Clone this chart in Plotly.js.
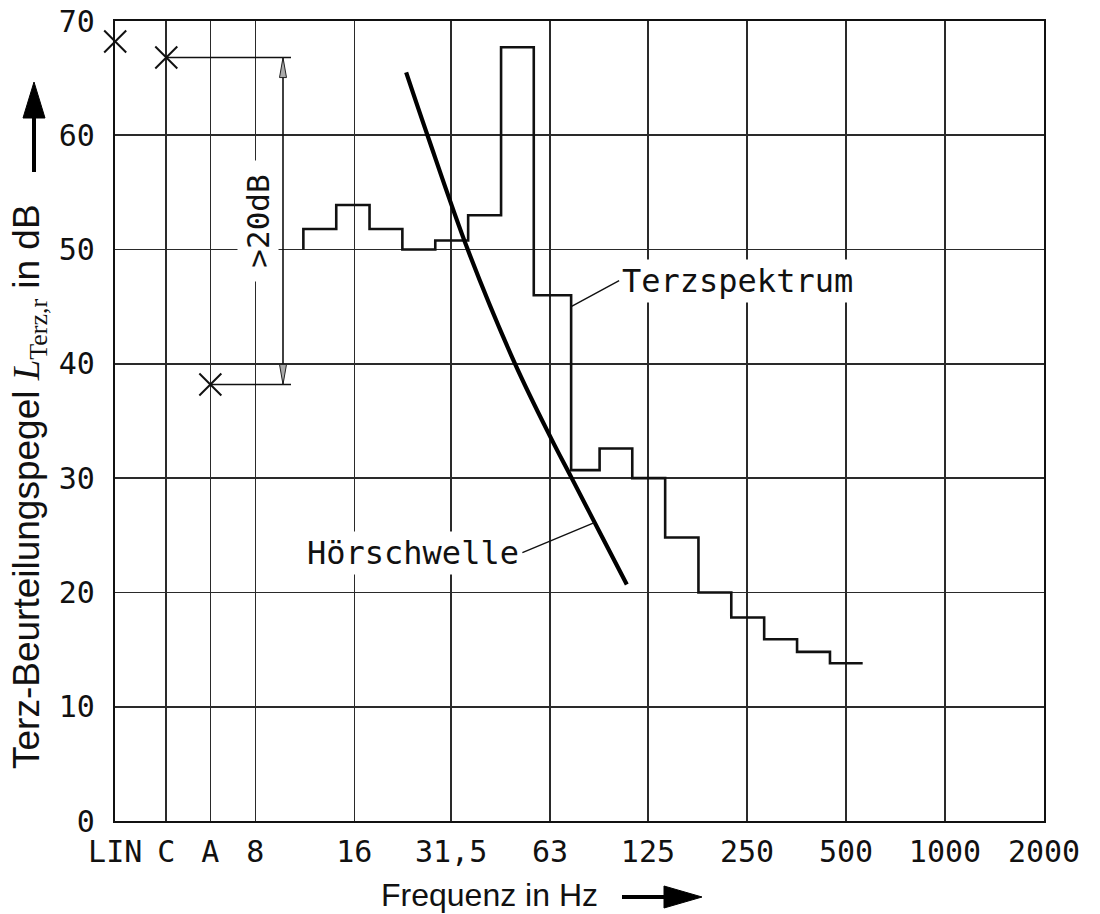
<!DOCTYPE html>
<html><head><meta charset="utf-8">
<script src="https://cdn.plot.ly/plotly-3.0.1.min.js"></script>
<style>html,body{margin:0;padding:0;background:#fff}</style>
</head><body><div id="chart" style="width:1100px;height:914px"></div>
<script>
// ---- data ----
const tickLabels = ['LIN', 'C', 'A', '8', '16', '31,5', '63', '125', '250', '500', '1000', '2000'];
const tickPositions = [3.0, 4.29, 5.84, 8, 16, 31.5, 63, 125, 250, 500, 1000, 2000];
const weightingNames = ['LIN', 'C', 'A'];
const weightingLevels = [68.2, 66.8, 38.2];
const bandEdgesHz = [11.2, 14.1, 17.8, 22.4, 28.2, 35.5, 44.7, 56.2, 73, 89.1, 112, 141, 178, 224, 282, 355, 447, 562];
const terzLevels = [51.8, 53.9, 51.8, 50.0, 50.8, 53.0, 67.7, 46.0, 30.7, 32.6, 30.0, 24.8, 20.0, 17.8, 15.9, 14.8, 13.8];
const terzBaseLevel = 50;
const hearingFreq = [23.0, 26.7, 35.4, 49.3, 63.4, 73.3, 89.4, 107.8];
const hearingLevel = [65.5, 60.0, 50.0, 40.0, 33.5, 30.0, 25.2, 20.7];
const yTicks = [0, 10, 20, 30, 40, 50, 60, 70];

// ---- layout geometry ----
const W = 1100, H = 914;
const M = {l: 115, r: 56, t: 21, b: 93};
const PW = W - M.l - M.r, PH = H - M.t - M.b;
const xr = [Math.log10(tickPositions[0]) - 0.0006, Math.log10(tickPositions[tickPositions.length - 1])];
const pxX = px => (px - M.l) / PW;
const pyY = py => (H - M.b - py) / PH;
const dataXtoPaper = v => (Math.log10(v) - xr[0]) / (xr[1] - xr[0]);
const weightingPos = tickPositions.slice(0, 3);

// step path of the third-octave spectrum
const sx = [bandEdgesHz[0]], sy = [terzBaseLevel];
for (let i = 0; i < terzLevels.length; i++) {
  sx.push(bandEdgesHz[i], bandEdgesHz[i + 1]);
  sy.push(terzLevels[i], terzLevels[i]);
}

const isoFont = 'DejaVu Sans Mono';
const traces = [
  {x: sx, y: sy, mode: 'lines', line: {color: '#111', width: 2.6}, hoverinfo: 'skip', name: 'Terzspektrum'},
  {x: hearingFreq, y: hearingLevel, mode: 'lines', line: {color: '#000', width: 4.2, shape: 'spline', smoothing: 1}, name: 'Hörschwelle'},
  {x: weightingPos, y: weightingLevels, mode: 'markers', cliponaxis: false, name: 'LIN/C/A',
   marker: {symbol: 'x-thin', size: 22, color: '#111', line: {width: 2, color: '#111'}}}
];

const dimX = pxX(283), extEnd = pxX(291);
const shapes = [
  {type: 'line', xref: 'paper', yref: 'y', x0: dataXtoPaper(weightingPos[1]), x1: extEnd, y0: weightingLevels[1], y1: weightingLevels[1], line: {color: '#111', width: 1.6}},
  {type: 'line', xref: 'paper', yref: 'y', x0: dataXtoPaper(weightingPos[2]), x1: extEnd, y0: weightingLevels[2], y1: weightingLevels[2], line: {color: '#111', width: 1.6}},
  {type: 'line', xref: 'paper', yref: 'y', x0: dimX, x1: dimX, y0: weightingLevels[1], y1: weightingLevels[2], line: {color: '#111', width: 1.6}},
  {type: 'path', xref: 'paper', yref: 'y', xsizemode: 'pixel', ysizemode: 'pixel', xanchor: dimX, yanchor: weightingLevels[1],
   path: 'M0,0 L-3.5,-20 L3.5,-20 Z', fillcolor: '#aaa', line: {color: '#222', width: 1}},
  {type: 'path', xref: 'paper', yref: 'y', xsizemode: 'pixel', ysizemode: 'pixel', xanchor: dimX, yanchor: weightingLevels[2],
   path: 'M0,0 L-3.5,20 L3.5,20 Z', fillcolor: '#aaa', line: {color: '#222', width: 1}},
  // axis arrows
  {type: 'path', xref: 'paper', yref: 'paper', xsizemode: 'pixel', ysizemode: 'pixel', xanchor: pxX(34), yanchor: pyY(82),
   path: 'M0,0 L-11,-36 L11,-36 Z', fillcolor: '#000', line: {color: '#000', width: 1}},
  {type: 'line', xref: 'paper', yref: 'paper', xsizemode: 'pixel', ysizemode: 'pixel', xanchor: pxX(34), yanchor: pyY(82),
   x0: 0, x1: 0, y0: -34, y1: -90, line: {color: '#000', width: 4}},
  {type: 'path', xref: 'paper', yref: 'paper', xsizemode: 'pixel', ysizemode: 'pixel', xanchor: pxX(702), yanchor: pyY(897),
   path: 'M0,0 L-38,11 L-38,-11 Z', fillcolor: '#000', line: {color: '#000', width: 1}},
  {type: 'line', xref: 'paper', yref: 'paper', xsizemode: 'pixel', ysizemode: 'pixel', xanchor: pxX(702), yanchor: pyY(897),
   x0: -36, x1: -80, y0: 0, y1: 0, line: {color: '#000', width: 4}}
];

const annotations = [
  {text: 'Terzspektrum', xref: 'x', yref: 'y', x: Math.log10(bandEdgesHz[8]), y: 45, ax: 48, ay: -26,
   showarrow: true, arrowhead: 0, arrowwidth: 1.4, arrowcolor: '#111', xanchor: 'left', yanchor: 'middle',
   bgcolor: '#fff', borderpad: 2, font: {family: isoFont, size: 32, color: '#111'}},
  {text: 'Hörschwelle', xref: 'x', yref: 'y', x: Math.log10(85.9), y: 26.1, ax: -72, ay: 30,
   showarrow: true, arrowhead: 0, arrowwidth: 1.4, arrowcolor: '#111', xanchor: 'right', yanchor: 'middle',
   bgcolor: '#fff', borderpad: 2, font: {family: isoFont, size: 32, color: '#111'}},
  {text: '>20dB', xref: 'paper', yref: 'y', x: pxX(258), y: (weightingLevels[1] + weightingLevels[2]) / 2,
   showarrow: false, textangle: -90, width: 120, height: 40, xanchor: 'center', yanchor: 'middle',
   bgcolor: '#fff', borderpad: 0, font: {family: isoFont, size: 31, color: '#111'}},
  {text: 'Frequenz in Hz', xref: 'paper', yref: 'paper', x: pxX(600), y: pyY(895), xanchor: 'right', yanchor: 'middle',
   showarrow: false, font: {family: 'Liberation Sans, Arial, sans-serif', size: 32, color: '#111'}},
  {text: 'Terz-Beurteilungspegel <span style="font-family:Liberation Serif"><i>L</i><sub>Terz,r</sub></span> in dB',
   xref: 'paper', yref: 'paper', x: pxX(29), y: pyY(487), xanchor: 'center', yanchor: 'middle', textangle: -90,
   showarrow: false, font: {family: 'Liberation Sans, Arial, sans-serif', size: 37, color: '#111'}}
];

const layout = {
  width: W, height: H,
  margin: M,
  paper_bgcolor: '#fff', plot_bgcolor: '#fff',
  showlegend: false,
  font: {family: isoFont, color: '#111'},
  xaxis: {
    type: 'log', range: xr, tickmode: 'array', tickvals: tickPositions, ticktext: tickLabels,
    showgrid: true, gridcolor: '#2a2a2a', gridwidth: 1.6, zeroline: false,
    showline: true, mirror: true, linecolor: '#111', linewidth: 2.2,
    ticks: '', ticklabelstandoff: 3, tickfont: {family: isoFont, size: 30, color: '#111'}
  },
  yaxis: {
    range: [0, 70], tickmode: 'array', tickvals: yTicks,
    showgrid: true, gridcolor: '#2a2a2a', gridwidth: 1.6, zeroline: false,
    showline: true, mirror: true, linecolor: '#111', linewidth: 2.2,
    ticks: '', ticklabelstandoff: 12, tickfont: {family: isoFont, size: 30, color: '#111'}
  },
  shapes: shapes,
  annotations: annotations
};

Plotly.newPlot('chart', traces, layout, {displayModeBar: false, staticPlot: true});
</script></body></html>
